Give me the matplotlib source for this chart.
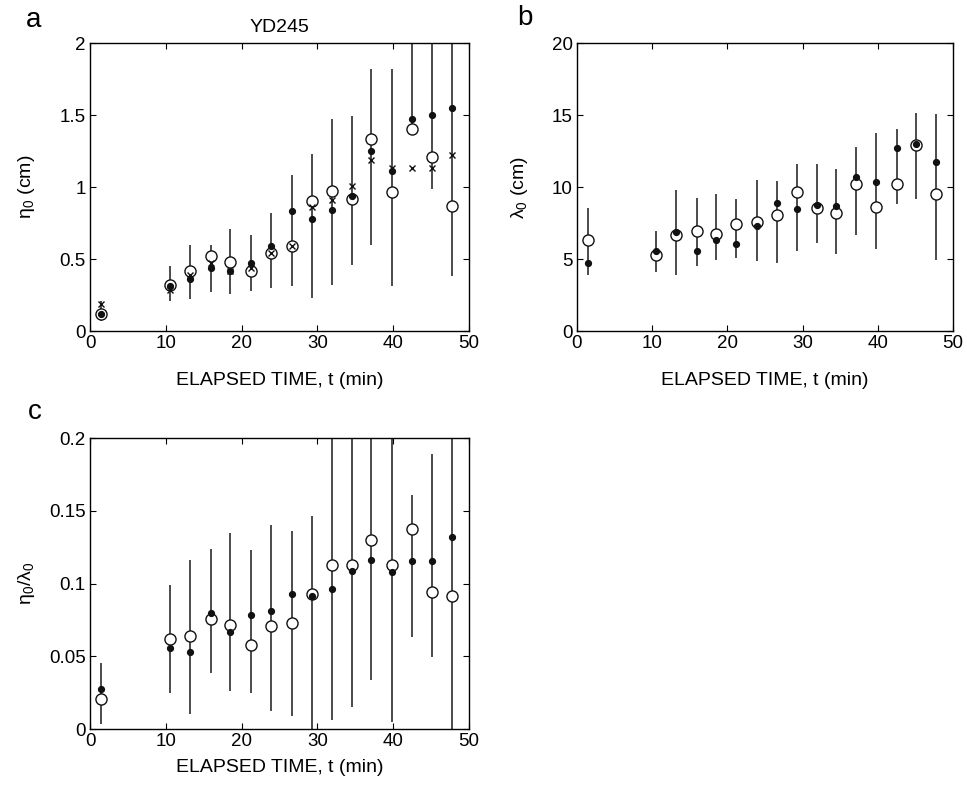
import matplotlib
matplotlib.use("Agg")
import matplotlib.pyplot as plt

plt.rcParams['font.family'] = ['Liberation Sans', 'DejaVu Sans']
plt.rcParams['mathtext.default'] = 'regular'
plt.rcParams['font.size'] = 14

# elapsed time (min)
times = [1.4, 10.5, 13.2, 15.9, 18.5, 21.2, 23.9, 26.6, 29.3, 31.9,
         34.5, 37.1, 39.8, 42.5, 45.1, 47.8]

# panel a: eta_0 (cm)
eta_dot = [0.12, 0.31, 0.36, 0.44, 0.42, 0.47, 0.59, 0.83, 0.78, 0.84,
           0.94, 1.25, 1.11, 1.47, 1.50, 1.55]
eta_circ = [0.12, 0.32, 0.42, 0.52, 0.48, 0.42, 0.54, 0.59, 0.90, 0.97,
            0.92, 1.335, 0.965, 1.40, 1.21, 0.87]
eta_cross = [0.19, 0.285, 0.39, 0.47, 0.42, 0.44, 0.54, 0.59, 0.86, 0.91,
             1.01, 1.19, 1.135, 1.13, 1.13, 1.22]
eta_lo = [0.07, 0.21, 0.225, 0.27, 0.255, 0.275, 0.30, 0.31, 0.23, 0.32,
          0.46, 0.60, 0.31, 1.39, 0.985, 0.38]
eta_hi = [0.21, 0.45, 0.60, 0.60, 0.71, 0.67, 0.82, 1.08, 1.23, 1.47,
          1.49, 1.82, 1.82, 2.2, 2.3, 2.4]

# panel b: lambda_0 (cm)
lam_dot = [4.73, 5.56, 6.87, 5.53, 6.29, 6.02, 7.31, 8.92, 8.46, 8.76,
           8.71, 10.72, 10.33, 12.71, 13.0, 11.74]
lam_circ = [6.29, 5.28, 6.66, 6.92, 6.75, 7.40, 7.56, 8.05, 9.66, 8.55,
            8.19, 10.24, 8.58, 10.19, 12.89, 9.50]
lam_lo = [3.92, 4.10, 3.87, 4.54, 4.91, 5.05, 4.89, 4.73, 5.53, 6.11,
          5.35, 6.64, 5.72, 8.83, 9.2, 4.96]
lam_hi = [8.53, 6.96, 9.8, 9.22, 9.52, 9.15, 10.49, 10.42, 11.6, 11.6,
          11.23, 12.8, 13.72, 14.0, 15.15, 15.1]

# panel c: eta_0 / lambda_0
rat_dot = [0.0275, 0.056, 0.0528, 0.0798, 0.067, 0.0782, 0.0812, 0.0927,
           0.0915, 0.0959, 0.1085, 0.1161, 0.1078, 0.1156, 0.1152, 0.1317]
rat_circ = [0.0204, 0.0617, 0.0636, 0.0757, 0.0714, 0.058, 0.0711, 0.073,
            0.0927, 0.1129, 0.113, 0.1298, 0.113, 0.1374, 0.0945, 0.0913]
rat_lo = [0.0032, 0.0248, 0.0106, 0.0386, 0.0262, 0.0244, 0.0124, 0.0087,
          -0.01, 0.0065, 0.0152, 0.0335, 0.0048, 0.063, 0.0496, -0.01]
rat_hi = [0.0457, 0.0993, 0.116, 0.124, 0.1344, 0.123, 0.140, 0.136,
          0.1464, 0.23, 0.23, 0.23, 0.23, 0.1608, 0.189, 0.23]

W, H = 967, 786
fig = plt.figure(figsize=(W / 100, H / 100), dpi=100)


def px_axes(left, top, right, bottom):
    return fig.add_axes([left / W, 1 - bottom / H, (right - left) / W, (bottom - top) / H])


def style(ax, ylim, yticks, yticklabels, xlab_y):
    ax.set_xlim(0, 50)
    ax.set_ylim(*ylim)
    ax.set_xticks([0, 10, 20, 30, 40, 50])
    ax.set_yticks(yticks)
    ax.set_yticklabels(yticklabels)
    ax.tick_params(direction='in', top=True, right=True, length=4, width=0.8,
                   labelsize=13.5, pad=3)
    for s in ax.spines.values():
        s.set_linewidth(1.0)
    ax.set_xlabel('ELAPSED TIME, t (min)', fontsize=14)
    ax.xaxis.set_label_coords(0.5, xlab_y)


def draw(ax, lo, hi, circ, dot, cross=None):
    ax.vlines(times, lo, hi, color='#1a1a1a', linewidth=1.1, zorder=2)
    ax.plot(times, circ, 'o', ms=8, mfc='white', mec='#111', mew=1.0, zorder=3)
    ax.plot(times, dot, 'o', ms=4.2, mfc='#111', mec='#111', zorder=4)
    if cross is not None:
        ax.plot(times, cross, 'x', ms=5, mec='#111', mew=1.0, zorder=5)


ax_a = px_axes(90, 43, 469, 331)
draw(ax_a, eta_lo, eta_hi, eta_circ, eta_dot, eta_cross)
style(ax_a, (0, 2), [0, 0.5, 1, 1.5, 2], ['0', '0.5', '1', '1.5', '2'], -0.142)
ax_a.set_ylabel('η$_0$ (cm)', fontsize=14)
ax_a.yaxis.set_label_coords(-0.14, 0.5)
ax_a.set_title('YD245', fontsize=14, pad=8)

ax_b = px_axes(577, 43, 953, 331)
draw(ax_b, lam_lo, lam_hi, lam_circ, lam_dot)
style(ax_b, (0, 20), [0, 5, 10, 15, 20], ['0', '5', '10', '15', '20'], -0.142)
ax_b.set_ylabel('λ$_0$ (cm)', fontsize=14)
ax_b.yaxis.set_label_coords(-0.125, 0.5)

ax_c = px_axes(90, 438, 469, 729)
draw(ax_c, rat_lo, rat_hi, rat_circ, rat_dot)
style(ax_c, (0, 0.2), [0, 0.05, 0.1, 0.15, 0.2],
      ['0', '0.05', '0.1', '0.15', '0.2'], -0.103)
ax_c.set_ylabel('η$_0$/λ$_0$', fontsize=14)
ax_c.yaxis.set_label_coords(-0.14, 0.5)

fig.text(34 / W, 1 - 20 / H, 'a', fontsize=20, ha='center', va='center')
fig.text(525 / W, 1 - 18 / H, 'b', fontsize=20, ha='center', va='center')
fig.text(35 / W, 1 - 412 / H, 'c', fontsize=20, ha='center', va='center')

fig.savefig('out.png', dpi=100)
